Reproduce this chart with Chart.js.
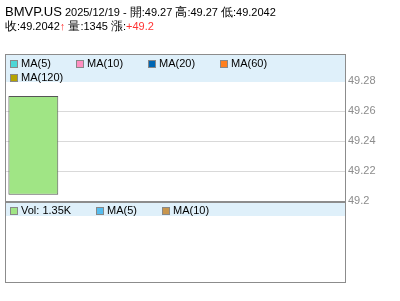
<!DOCTYPE html>
<html>
<head>
<meta charset="utf-8">
<script src="https://cdn.jsdelivr.net/npm/chart.js@4.4.1/dist/chart.umd.min.js"></script>
<style>
  body { margin: 0; background: #fff; }
  #wrap { position: relative; width: 400px; height: 301px; font-family: "Liberation Sans", Arial, sans-serif; font-size: 11px; color: #000; }
  canvas { position: absolute; left: 0; top: 0; }
  .hd { position: absolute; left: 5px; white-space: nowrap; line-height: 14px; }
  .hd .cj { font-size: 12px; }
  .band { position: absolute; left: 6px; width: 339px; background: #dff0fa; }
  .it { position: absolute; white-space: nowrap; line-height: 14px; }
  .sq { display: inline-block; width: 6px; height: 6px; border: 1px solid #888; margin-right: 3px; vertical-align: -1px; }
  .up { color: #f33; }
</style>
</head>
<body>
<div id="wrap">
  <canvas id="grafico" width="400" height="301"></canvas>
  <div class="hd" style="top:5px"><span style="font-size:13px">BMVP.US</span> 2025/12/19 - <span class="cj">開</span>:49.27 <span class="cj">高</span>:49.27 <span class="cj">低</span>:49.2042</div>
  <div class="hd" style="top:19px"><span class="cj">收</span>:49.2042<span class="up" style="font-weight:bold">↑</span> <span class="cj">量</span>:1345 <span class="cj">漲</span>:<span class="up">+49.2</span></div>
  <div class="band" style="top:55px;height:27px"></div>
  <div class="band" style="top:203px;height:13px"></div>
  <div id="legMain"></div>
  <div id="legVol"></div>
</div>
<script>
const dates = ["2025/12/19"];
const opens = [49.27];
const highs = [49.27];
const lows = [49.2042];
const closes = [49.2042];
const volumes = [1345];
const slots = 6;
const yTicks = [49.2, 49.22, 49.24, 49.26, 49.28];

const maLegend = [
  { label: "MA(5)", color: "#4dd6d6", x: 10, y: 56 },
  { label: "MA(10)", color: "#ff8ec0", x: 76, y: 56 },
  { label: "MA(20)", color: "#0066b3", x: 148, y: 56 },
  { label: "MA(60)", color: "#ff7f1e", x: 220, y: 56 },
  { label: "MA(120)", color: "#b5a300", x: 10, y: 70 }
];
const volLegend = [
  { label: "Vol: " + (Math.round(volumes[0] / 10) / 100).toFixed(2) + "K", color: "#a0e585", x: 10, y: 203 },
  { label: "MA(5)", color: "#55bdef", x: 96, y: 203 },
  { label: "MA(10)", color: "#c8964e", x: 162, y: 203 }
];

function legenda(id, itens) {
  const el = document.getElementById(id);
  itens.forEach(it => {
    const d = document.createElement("div");
    d.className = "it";
    d.style.left = it.x + "px";
    d.style.top = it.y + "px";
    d.innerHTML = '<span class="sq" style="background:' + it.color + '"></span>' + it.label;
    el.appendChild(d);
  });
}
legenda("legMain", maLegend);
legenda("legVol", volLegend);

const labels = dates.concat(Array(slots - dates.length).fill(""));

const moldura = {
  id: "moldura",
  afterDraw(c) {
    const g = c.ctx;
    g.save();
    g.strokeStyle = "#8c8c8c";
    g.lineWidth = 1;
    g.strokeRect(5.5, 54.5, 340, 228);
    g.fillStyle = "#8c8c8c";
    g.fillRect(6, 201, 339, 2);
    g.restore();
  }
};

const ctx = document.getElementById("grafico").getContext("2d");
const chart = new Chart(ctx, {
  type: "bar",
  data: {
    labels: labels,
    datasets: [
      {
        label: "candle",
        // corpo do candle: abertura -> fechamento (máx = abertura, mín = fechamento, sem pavio)
        data: opens.map((o, i) => [Math.min(o, closes[i], lows[i]), Math.max(o, closes[i], highs[i])]),
        backgroundColor: "#a0e585",
        borderColor: "#555",
        borderWidth: 1,
        borderSkipped: false,
        categoryPercentage: 1,
        barPercentage: 0.88
      }
    ]
  },
  options: {
    responsive: false,
    animation: false,
    layout: { padding: { top: 81, bottom: 100, left: 5, right: 0 } },
    plugins: { legend: { display: false }, tooltip: { enabled: false } },
    scales: {
      x: { display: false, ticks: { autoSkip: false } },
      y: {
        position: "right",
        min: yTicks[0],
        max: yTicks[yTicks.length - 1],
        afterFit: s => { s.width = 55; },
        afterBuildTicks: s => { s.ticks = yTicks.map(v => ({ value: v })); },
        ticks: {
          color: "#8c8c8c",
          padding: 3,
          font: { family: "Liberation Sans", size: 11 },
          callback: v => String(+v.toFixed(4))
        },
        grid: { color: "#d9d9d9", drawTicks: false },
        border: { display: false }
      }
    }
  },
  plugins: [moldura]
});
</script>
</body>
</html>
